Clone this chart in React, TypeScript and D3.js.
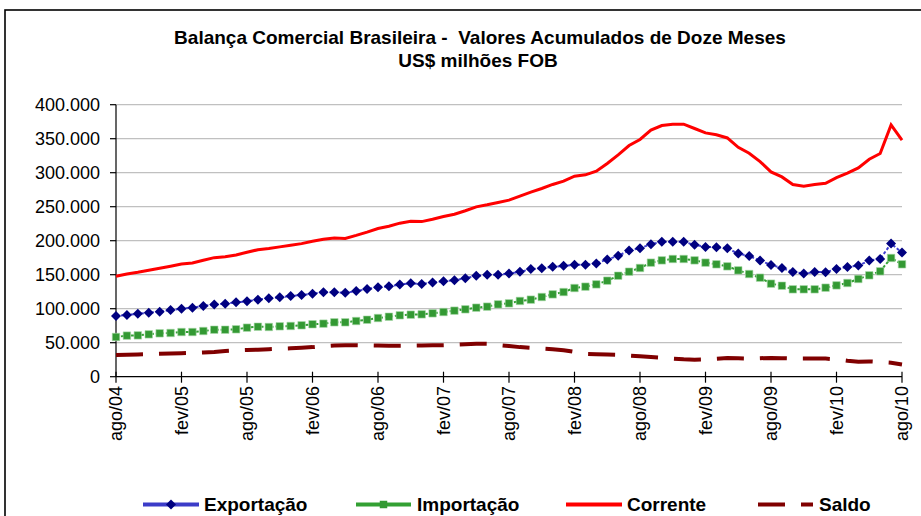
import React from 'react';
import * as d3 from 'd3';

// categorias: meses de ago/04 a ago/10
const monthNames = ['jan', 'fev', 'mar', 'abr', 'mai', 'jun', 'jul', 'ago', 'set', 'out', 'nov', 'dez'];
const months: string[] = d3.range(73).map(i => {
  const m = (7 + i) % 12;
  const yr = 4 + Math.floor((7 + i) / 12);
  return `${monthNames[m]}/${String(yr).padStart(2, '0')}`;
});

const tickLabels = ['ago/04', 'fev/05', 'ago/05', 'fev/06', 'ago/06', 'fev/07', 'ago/07',
  'fev/08', 'ago/08', 'fev/09', 'ago/09', 'fev/10', 'ago/10'];

// US$ milhões FOB, acumulado 12 meses
const exportacao = [
  89300, 90700, 92700, 94100, 95600, 98100, 100000, 101500, 104000, 106000, 107400, 109400,
  110900, 113300, 115300, 116800, 118700, 120100, 122100, 124100, 124100, 123400, 125900, 128800,
  131600, 133000, 135500, 137400, 136400, 138400, 140500, 141900, 144900, 148300, 149800, 149800,
  151800, 154200, 158200, 159600, 161600, 163000, 164500, 164500, 166500, 172400, 177800, 185600,
  189000, 194900, 198300, 198300, 198300, 193900, 190800, 190500, 188800, 181000, 177600, 170700,
  164400, 160000, 154100, 151600, 154100, 153600, 158500, 161500, 163400, 170700, 173200, 195700,
  182500,
];

const importacao = [
  58400, 60400, 60800, 62300, 63800, 64300, 65700, 65700, 67200, 69100, 69100, 69700,
  72100, 73500, 73100, 74100, 74600, 75600, 77100, 78000, 80000, 80000, 81900, 83800,
  86300, 88200, 90300, 91200, 91700, 93200, 95100, 97100, 99100, 101500, 103000, 106400,
  107900, 111400, 113300, 117200, 121100, 124500, 130400, 132400, 135800, 141200, 148500, 154400,
  159900, 167700, 171100, 173100, 173100, 171100, 167700, 165300, 162300, 156400, 151000, 145600,
  136800, 133800, 128500, 128500, 128500, 130900, 134300, 137800, 143700, 149100, 155000, 174600,
  165300,
];

const corrente = [
  147700, 151100, 153500, 156400, 159400, 162400, 165700, 167200, 171200, 175100, 176500, 179100,
  183000, 186800, 188400, 190900, 193300, 195700, 199200, 202100, 204100, 203400, 207800, 212600,
  217900, 221200, 225800, 228600, 228100, 231600, 235600, 239000, 244000, 249800, 252800, 256200,
  259700, 265600, 271500, 276800, 282700, 287500, 294900, 296900, 302300, 313600, 326300, 340000,
  348900, 362600, 369400, 371400, 371400, 365000, 358500, 355800, 351100, 337400, 328600, 316300,
  301200, 293800, 282600, 280100, 282600, 284500, 292800, 299300, 307100, 319800, 328200, 370300,
  347800,
];

const saldo = [
  32000, 32300, 32800, 33200, 33600, 34000, 34500, 35000, 35600, 36500, 37800, 38800,
  39300, 39800, 40500, 41200, 41800, 42500, 43500, 45000, 46000, 46300, 46300, 46000,
  45800, 45600, 45500, 45700, 46000, 46200, 46400, 46800, 47600, 48500, 48300, 46500,
  45000, 43500, 42500, 41500, 40500, 39000, 36500, 33500, 33000, 32500, 32000, 31000,
  30000, 29000, 28000, 26500, 25500, 25000, 25500, 26500, 27500, 27000, 26500, 27200,
  27600, 27200, 26800, 26800, 26800, 26600, 25500, 23500, 22000, 22500, 21500, 20500,
  18000,
];

const W = 921;
const H = 516;
const FONT = '"Liberation Sans", Arial, sans-serif';

const fmt = d3.formatLocale({ decimal: ',', thousands: '.', grouping: [3], currency: ['', ''] }).format(',');

export default function App() {
  const x = d3.scalePoint<string>().domain(months).range([116, 902]);
  const y = d3.scaleLinear().domain([0, 400000]).range([376.7, 104.7]);
  const yTicks = y.ticks(8);

  const line = d3.line<number>()
    .x((_, i) => x(months[i]) as number)
    .y(d => y(d));

  const diamond = d3.symbol().type(d3.symbolSquare).size(50)();
  const square = d3.symbol().type(d3.symbolSquare).size(56)();

  const x0 = 116, x1 = 902, yBase = y(0);

  const legendY = 504.5;

  return (
    <svg width={W} height={H} style={{ position: 'absolute', left: 0, top: 0, background: '#fff' }}
      fontFamily={FONT}>
      <rect x={0} y={0} width={W} height={H} fill="#fff" />
      <rect x={5} y={10} width={W + 20} height={H + 20} fill="none" stroke="#000" strokeWidth={1.6} />

      {/* título */}
      <text x={480} y={44} textAnchor="middle" fontSize={19} fontWeight="bold" style={{ whiteSpace: 'pre' }}>
        {'Balança Comercial Brasileira -  Valores Acumulados de Doze Meses'}
      </text>
      <text x={478} y={67} textAnchor="middle" fontSize={19} fontWeight="bold">US$ milhões FOB</text>

      {/* grade */}
      {yTicks.filter(t => t > 0).map(t => (
        <line key={t} x1={x0} x2={x1} y1={y(t)} y2={y(t)} stroke="#c0c0c0" strokeWidth={1.3} />
      ))}

      {/* eixo y */}
      <line x1={x0} x2={x0} y1={y(400000)} y2={yBase} stroke="#000" strokeWidth={1.2} />
      {yTicks.map(t => (
        <g key={t}>
          <line x1={x0 - 6} x2={x0} y1={y(t)} y2={y(t)} stroke="#000" strokeWidth={1.2} />
          <text x={100} y={y(t)} dy="0.36em" textAnchor="end" fontSize={18}>{fmt(t)}</text>
        </g>
      ))}

      {/* eixo x */}
      <line x1={x0} x2={x1} y1={yBase} y2={yBase} stroke="#000" strokeWidth={1.2} />
      {tickLabels.map(l => {
        const px = x(l) as number;
        return (
          <g key={l}>
            <line x1={px} x2={px} y1={yBase - 5} y2={yBase + 6} stroke="#000" strokeWidth={1.2} />
            <text transform={`translate(${px},386) rotate(-90)`} dy="0.36em" textAnchor="end" fontSize={18}>{l}</text>
          </g>
        );
      })}

      {/* séries */}
      <path d={line(saldo) || ''} fill="none" stroke="#800000" strokeWidth={4} strokeDasharray="27,16" />
      <path d={line(corrente) || ''} fill="none" stroke="#ff0000" strokeWidth={3} />

      <path d={line(importacao) || ''} fill="none" stroke="#33a033" strokeWidth={2} strokeDasharray="3,2" />
      {importacao.map((d, i) => (
        <path key={i} d={square || ''} transform={`translate(${x(months[i])},${y(d)})`}
          fill="#339933" stroke="#a8d8a8" strokeWidth={0.6} />
      ))}

      <path d={line(exportacao) || ''} fill="none" stroke="#4040d0" strokeWidth={2} strokeDasharray="3,2" />
      {exportacao.map((d, i) => (
        <path key={i} d={diamond || ''} transform={`translate(${x(months[i])},${y(d)}) rotate(45)`}
          fill="#000080" />
      ))}

      {/* legenda */}
      <line x1={143} x2={199} y1={legendY} y2={legendY} stroke="#3c3cc8" strokeWidth={4} />
      <path d={diamond || ''} transform={`translate(171,${legendY}) rotate(45)`} fill="#000080" />
      <text x={204} y={legendY} dy="0.36em" fontSize={19} fontWeight="bold">Exportação</text>

      <line x1={356} x2={411} y1={legendY} y2={legendY} stroke="#33a033" strokeWidth={4} />
      <path d={square || ''} transform={`translate(383.5,${legendY})`} fill="#339933" />
      <text x={417} y={legendY} dy="0.36em" fontSize={19} fontWeight="bold">Importação</text>

      <line x1={566} x2={622} y1={legendY} y2={legendY} stroke="#ff0000" strokeWidth={4} />
      <text x={627} y={legendY} dy="0.36em" fontSize={19} fontWeight="bold">Corrente</text>

      <line x1={758} x2={813} y1={legendY} y2={legendY} stroke="#800000" strokeWidth={4} strokeDasharray="27,16" />
      <text x={819} y={legendY} dy="0.36em" fontSize={19} fontWeight="bold">Saldo</text>
    </svg>
  );
}
